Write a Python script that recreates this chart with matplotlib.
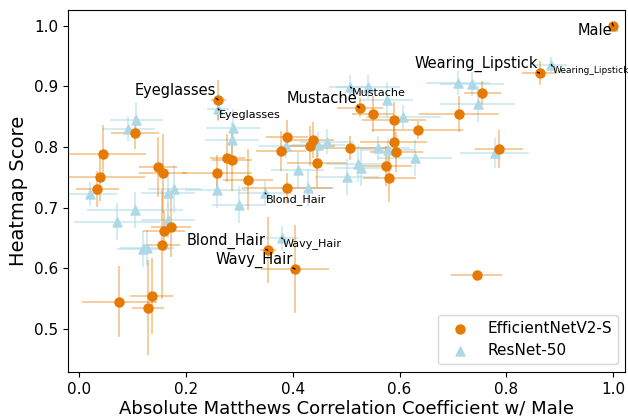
import matplotlib
matplotlib.use("Agg")
import matplotlib.pyplot as plt

# EfficientNetV2-S: |MCC| с Male, оценка heatmap и погрешности
eff_x = [1.000, 0.862, 0.755, 0.525, 0.550, 0.589, 0.712, 0.634, 0.589, 0.594,
         0.508, 0.574, 0.581, 0.787, 0.744, 0.260, 0.105, 0.045, 0.039, 0.034,
         0.148, 0.157, 0.258, 0.277, 0.286, 0.316, 0.378, 0.389, 0.432, 0.437,
         0.445, 0.389, 0.159, 0.172, 0.155, 0.353, 0.404, 0.075, 0.136, 0.129]
eff_y = [1.000, 0.922, 0.889, 0.865, 0.855, 0.845, 0.855, 0.828, 0.809, 0.792,
         0.799, 0.769, 0.749, 0.797, 0.589, 0.878, 0.823, 0.789, 0.751, 0.731,
         0.767, 0.757, 0.757, 0.782, 0.778, 0.746, 0.794, 0.817, 0.802, 0.812,
         0.774, 0.733, 0.662, 0.668, 0.639, 0.630, 0.599, 0.545, 0.554, 0.535]
eff_xerr = [0.004, 0.033, 0.034, 0.043, 0.040, 0.060, 0.075, 0.085, 0.063, 0.050,
            0.075, 0.050, 0.050, 0.045, 0.047, 0.014, 0.045, 0.080, 0.085, 0.040,
            0.036, 0.045, 0.065, 0.033, 0.037, 0.047, 0.047, 0.040, 0.047, 0.040,
            0.055, 0.085, 0.040, 0.037, 0.033, 0.015, 0.063, 0.070, 0.040, 0.030]
eff_yerr = [0.002, 0.020, 0.020, 0.016, 0.030, 0.030, 0.030, 0.015, 0.025, 0.033,
            0.020, 0.033, 0.040, 0.031, 0.003, 0.033, 0.027, 0.047, 0.040, 0.030,
            0.050, 0.065, 0.030, 0.040, 0.050, 0.050, 0.033, 0.027, 0.033, 0.030,
            0.040, 0.025, 0.033, 0.050, 0.090, 0.055, 0.073, 0.059, 0.063, 0.078]

# ResNet-50
res_x = [1.000, 0.884, 0.710, 0.735, 0.746, 0.778, 0.508, 0.540, 0.576, 0.607,
         0.559, 0.578, 0.628, 0.523, 0.527, 0.501, 0.260, 0.288, 0.286, 0.387,
         0.447, 0.464, 0.409, 0.258, 0.348, 0.428, 0.299, 0.107, 0.092, 0.021,
         0.166, 0.178, 0.105, 0.071, 0.166, 0.120, 0.127, 0.379]
res_y = [1.000, 0.936, 0.906, 0.904, 0.871, 0.790, 0.899, 0.899, 0.878, 0.850,
         0.799, 0.795, 0.782, 0.772, 0.766, 0.751, 0.863, 0.832, 0.812, 0.802,
         0.804, 0.809, 0.762, 0.729, 0.724, 0.733, 0.705, 0.845, 0.830, 0.723,
         0.724, 0.731, 0.696, 0.677, 0.680, 0.632, 0.634, 0.650]
res_xerr = [0.004, 0.030, 0.060, 0.060, 0.070, 0.065, 0.040, 0.060, 0.050, 0.070,
            0.060, 0.050, 0.070, 0.060, 0.050, 0.060, 0.020, 0.050, 0.050, 0.050,
            0.050, 0.050, 0.050, 0.060, 0.050, 0.050, 0.050, 0.050, 0.050, 0.050,
            0.050, 0.050, 0.090, 0.080, 0.050, 0.050, 0.050, 0.030]
res_yerr = [0.002, 0.013, 0.020, 0.020, 0.030, 0.025, 0.020, 0.020, 0.030, 0.020,
            0.020, 0.020, 0.030, 0.030, 0.030, 0.030, 0.020, 0.030, 0.030, 0.020,
            0.020, 0.020, 0.030, 0.030, 0.020, 0.030, 0.030, 0.030, 0.020, 0.020,
            0.040, 0.040, 0.030, 0.030, 0.030, 0.030, 0.030, 0.020]

# подписанные атрибуты: имя -> индекс точки
eff_labels = {"Male": 0, "Wearing_Lipstick": 1, "Mustache": 3,
              "Eyeglasses": 15, "Blond_Hair": 35, "Wavy_Hair": 36}
res_labels = {"Wearing_Lipstick": 1, "Mustache": 6, "Eyeglasses": 16,
              "Blond_Hair": 24, "Wavy_Hair": 37}

ORANGE = '#e67a00'
BLUE = 'lightblue'

fig = plt.figure(figsize=(6.28, 4.17), dpi=100)
ax = fig.add_axes([0.1083, 0.1079, 0.8877, 0.8681])

# погрешности
ax.errorbar(res_x, res_y, xerr=res_xerr, yerr=res_yerr, fmt='none',
            ecolor=BLUE, elinewidth=1.5, alpha=0.5, zorder=1)
ax.errorbar(eff_x, eff_y, xerr=eff_xerr, yerr=eff_yerr, fmt='none',
            ecolor=ORANGE, elinewidth=1.2, alpha=0.45, zorder=1)

# точки
ax.scatter(eff_x, eff_y, marker='o', s=42, color=ORANGE,
           label='EfficientNetV2-S', zorder=3)
ax.scatter(res_x, res_y, marker='^', s=42, color=BLUE,
           label='ResNet-50', zorder=2)

# подписи: короткая черная линия от угла текста к точке
for name, i in eff_labels.items():
    if name == "Male":
        off, rel = (-1, -5), (1, 1)
    else:
        off, rel = (-2, 9), (1, 0)
    ax.annotate(name, (eff_x[i], eff_y[i]), xytext=off,
                textcoords='offset pixels', ha='right', va='center',
                fontsize=10.5,
                arrowprops=dict(arrowstyle='-', color='black', lw=1,
                                relpos=rel, shrinkA=0, shrinkB=2),
                zorder=4)
for name, i in res_labels.items():
    fs = 6.5 if name == "Wearing_Lipstick" else 8
    ax.annotate(name, (res_x[i], res_y[i]), xytext=(1, -6),
                textcoords='offset pixels', ha='left', va='center',
                fontsize=fs,
                arrowprops=dict(arrowstyle='-', color='black', lw=1,
                                relpos=(0, 1), shrinkA=0, shrinkB=2),
                zorder=4)

ax.set_xlim(-0.021, 1.023)
ax.set_ylim(0.429, 1.026)
ax.set_xticks([0.0, 0.2, 0.4, 0.6, 0.8, 1.0])
ax.set_yticks([0.5, 0.6, 0.7, 0.8, 0.9, 1.0])
ax.tick_params(labelsize=11)
ax.set_xlabel("Absolute Matthews Correlation Coefficient w/ Male",
              fontsize=13, labelpad=2)
ax.set_ylabel("Heatmap Score", fontsize=14)
ax.legend(loc='lower right', fontsize=11)

plt.savefig("out.png")
